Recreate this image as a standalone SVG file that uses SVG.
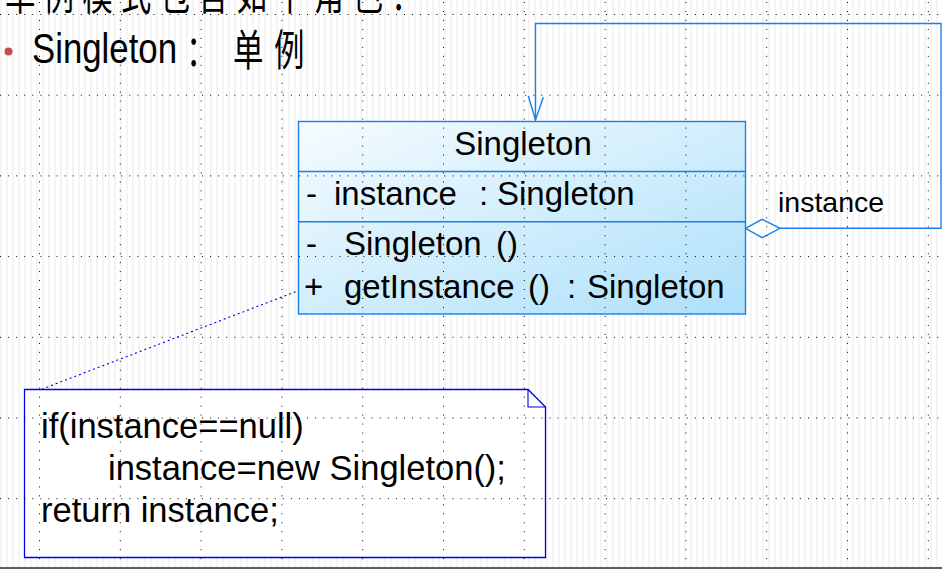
<svg xmlns="http://www.w3.org/2000/svg" width="942" height="569" viewBox="0 0 942 569">
<defs>
<pattern id="stripes" x="0" y="0" width="6" height="10" patternUnits="userSpaceOnUse">
<rect x="0" y="0" width="2" height="10" fill="#f4f4f4"/>
</pattern>
<linearGradient id="classFill" x1="0" y1="0" x2="1" y2="1">
<stop offset="0" stop-color="#f6fcff"/>
<stop offset="1" stop-color="#ade0fa"/>
</linearGradient>
<style>
.lat{font-family:"Liberation Sans",Arial,sans-serif;fill:#000}
.cjk{font-family:"Noto Sans CJK SC","Noto Sans CJK JP",sans-serif;fill:#000}
.cls{font-size:33px}
.note{font-size:34.5px}
.uml{stroke:#1a7fe8;stroke-width:1.4;fill:none}
.gh{stroke:#000;stroke-width:1;stroke-dasharray:1 7.08}
.gv{stroke:#000;stroke-width:1;stroke-dasharray:1 7.97}
</style>
</defs>
<rect x="0" y="0" width="942" height="569" fill="#ffffff"/>
<rect x="0" y="0" width="942" height="569" fill="url(#stripes)"/>

<g id="title">
<text class="cjk" font-size="43" transform="scale(0.71,1)" x="7" y="9.5" letter-spacing="11.4">单例模式包含如下角色：</text>
<circle cx="8.5" cy="51.5" r="4" fill="#c0504d"/>
<text class="lat" font-size="43" x="32" y="63" textLength="145" lengthAdjust="spacingAndGlyphs">Singleton</text>
<text class="cjk" font-size="43" transform="scale(0.71,1)" y="66"><tspan x="262">：</tspan><tspan x="328.2">单</tspan><tspan x="385.9">例</tspan></text>
</g>

<g id="connectors">
<path class="uml" d="M780,228.3 H941 V23.5 H535.5 V120"/>
<path class="uml" d="M528.3,96 L535.5,120 L543.3,97.3"/>
<polygon points="745.5,228.3 762,219.3 780,228.3 762,237.7" fill="#ffffff" stroke="#1a7fe8" stroke-width="1.4"/>
<line x1="37" y1="391" x2="308" y2="287" stroke="#0000ee" stroke-width="1.1" stroke-dasharray="2 3"/>
<text class="lat" font-size="28.5" x="778" y="212">instance</text>
</g>

<g id="singleton-class">
<rect x="298.5" y="121.5" width="447" height="192.5" fill="url(#classFill)" stroke="#1a7fe8" stroke-width="1.4"/>
<line class="uml" x1="298.5" y1="171.5" x2="745.5" y2="171.5"/>
<line class="uml" x1="298.5" y1="221.7" x2="745.5" y2="221.7"/>
<text class="lat cls" x="523" y="155" text-anchor="middle">Singleton</text>
<text class="lat cls" y="205"><tspan x="306">-</tspan><tspan x="334">instance</tspan><tspan x="479">:</tspan><tspan x="497">Singleton</tspan></text>
<text class="lat cls" y="255"><tspan x="306">-</tspan><tspan x="344">Singleton</tspan><tspan x="496">()</tspan></text>
<text class="lat cls" y="298"><tspan x="304">+</tspan><tspan x="344">getInstance</tspan><tspan x="528">()</tspan><tspan x="567">:</tspan><tspan x="587">Singleton</tspan></text>
</g>

<g id="note">
<path d="M24.5,389.5 H528 L545.5,407 V557.5 H24.5 Z" fill="#ffffff" stroke="#0000ee" stroke-width="1.3"/>
<path d="M528,389.5 V407 H545.5" fill="none" stroke="#0000ee" stroke-width="1.1"/>
<text class="lat note" x="41" y="438">if(instance==null)</text>
<text class="lat note" x="108" y="480">instance=new Singleton();</text>
<text class="lat note" x="41" y="522">return instance;</text>
</g>

<g id="grid">
<line class="gh" x1="0" y1="14.5" x2="942" y2="14.5"/>
<line class="gh" x1="0" y1="95.2" x2="942" y2="95.2"/>
<line class="gh" x1="0" y1="175.9" x2="942" y2="175.9"/>
<line class="gh" x1="0" y1="256.6" x2="942" y2="256.6"/>
<line class="gh" x1="0" y1="337.3" x2="942" y2="337.3"/>
<line class="gh" x1="0" y1="418" x2="942" y2="418"/>
<line class="gh" x1="0" y1="498.7" x2="942" y2="498.7"/>
<line class="gv" x1="39.5" y1="2" x2="39.5" y2="566"/>
<line class="gv" x1="120.3" y1="2" x2="120.3" y2="566"/>
<line class="gv" x1="201.1" y1="2" x2="201.1" y2="566"/>
<line class="gv" x1="281.9" y1="2" x2="281.9" y2="566"/>
<line class="gv" x1="362.7" y1="2" x2="362.7" y2="566"/>
<line class="gv" x1="443.5" y1="2" x2="443.5" y2="566"/>
<line class="gv" x1="524.3" y1="2" x2="524.3" y2="566"/>
<line class="gv" x1="605.1" y1="2" x2="605.1" y2="566"/>
<line class="gv" x1="685.9" y1="2" x2="685.9" y2="566"/>
<line class="gv" x1="766.7" y1="2" x2="766.7" y2="566"/>
<line class="gv" x1="847.5" y1="2" x2="847.5" y2="566"/>
<line class="gv" x1="928.3" y1="2" x2="928.3" y2="566"/>
</g>

<rect x="0" y="567" width="942" height="2" fill="#606060"/>
</svg>
